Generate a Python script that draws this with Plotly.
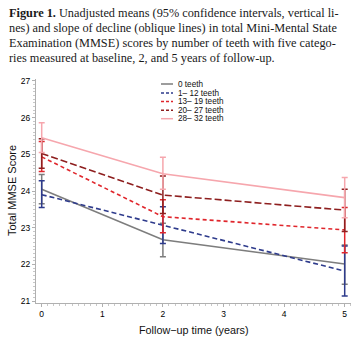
import plotly.graph_objects as go

time = [0, 2, 5]
groups = ["0 teeth", "1– 12 teeth", "13– 19 teeth", "20– 27 teeth", "28– 32 teeth"]
mean_0 = [24.05, 22.67, 22.01]
mean_1_12 = [23.90, 23.07, 21.82]
mean_13_19 = [24.93, 23.30, 22.94]
mean_20_27 = [25.02, 23.89, 23.48]
mean_28_32 = [25.45, 24.47, 23.82]
lo_0 = [23.65, 22.21, 21.46]
lo_1_12 = [23.55, 22.57, 21.14]
lo_13_19 = [24.53, 22.86, 22.32]
lo_20_27 = [24.62, 23.39, 22.90]
lo_28_32 = [25.05, 24.05, 23.27]
hi_0 = [24.45, 23.12, 22.53]
hi_1_12 = [24.28, 23.57, 22.50]
hi_13_19 = [25.35, 23.76, 23.55]
hi_20_27 = [25.42, 24.41, 24.05]
hi_28_32 = [25.86, 24.92, 24.37]
y_ticks = [21, 22, 23, 24, 25, 26, 27]
x_ticks = [0, 1, 2, 3, 4, 5]

means = [mean_0, mean_1_12, mean_13_19, mean_20_27, mean_28_32]
los = [lo_0, lo_1_12, lo_13_19, lo_20_27, lo_28_32]
his = [hi_0, hi_1_12, hi_13_19, hi_20_27, hi_28_32]
colors = ["#7d7d7d", "#2e3b8c", "#e0262c", "#8e1f1f", "#f6a6ad"]
dashes = ["solid", "5px,3px", "4px,3px", "7px,3px", "solid"]

W, H = 352, 346
L, R, T, B = 36, 1, 79, 43


def px_x(p):
    return (p - L) / (W - L - R)


def px_y(p):
    return (H - B - p) / (H - T - B)


fig = go.Figure()
for g, m, lo, hi, c, d in zip(groups, means, los, his, colors, dashes):
    fig.add_trace(go.Scatter(
        x=time, y=m, mode="lines", name=g,
        line=dict(color=c, width=1.6, dash=d),
        error_y=dict(type="data", symmetric=False,
                     array=[h - v for h, v in zip(hi, m)],
                     arrayminus=[v - l for l, v in zip(lo, m)],
                     color=c, thickness=1.5, width=3),
        showlegend=False,
    ))

shapes = []
annotations = []
leg_rows = [84, 93, 101.5, 110.3, 118.7]
for g, c, d, yy in zip(groups, colors, dashes, leg_rows):
    shapes.append(dict(type="line", xref="paper", yref="paper",
                       x0=px_x(161), x1=px_x(173), y0=px_y(yy), y1=px_y(yy),
                       line=dict(color=c, width=1.5, dash="solid" if d == "solid" else "3px,2px")))
    annotations.append(dict(xref="paper", yref="paper", x=px_x(176), y=px_y(yy),
                            text=g, showarrow=False, xanchor="left", yanchor="middle",
                            font=dict(family="Liberation Sans", size=8.2, color="#111")))

caption = [
    "<b>Figure 1.</b> Unadjusted means (95% confidence intervals, vertical li-",
    "nes) and slope of decline (oblique lines) in total Mini-Mental State",
    "Examination (MMSE) scores by number of teeth with five catego-",
    "ries measured at baseline, 2, and 5 years of follow-up.",
]
for line, yy in zip(caption, [13, 28, 43, 57.5]):
    annotations.append(dict(xref="paper", yref="paper", x=px_x(7), y=px_y(yy),
                            text=line, showarrow=False, xanchor="left", yanchor="middle",
                            font=dict(family="Liberation Serif", size=12.3, color="#1a1a1a")))

annotations.append(dict(xref="paper", yref="paper", x=0.5, y=px_y(330),
                        text="Follow−up time (years)", showarrow=False,
                        xanchor="center", yanchor="middle",
                        font=dict(family="Liberation Sans", size=10.8, color="#111")))
annotations.append(dict(xref="paper", yref="paper", x=px_x(12), y=0.5,
                        text="Total MMSE Score", showarrow=False, textangle=-90,
                        xanchor="center", yanchor="middle",
                        font=dict(family="Liberation Sans", size=11, color="#111")))

fig.update_layout(
    width=W, height=H, margin=dict(l=L, r=R, t=T, b=B, autoexpand=False),
    paper_bgcolor="white", plot_bgcolor="white",
    shapes=shapes, annotations=annotations,
    xaxis=dict(range=[-0.094, 5.104], tickvals=x_ticks, showgrid=False, zeroline=False,
               showline=True, linecolor="#b0b0b0", linewidth=1, automargin=False,
               ticks="outside", ticklen=3, tickcolor="#b0b0b0",
               minor=dict(dtick=0.1, ticks="outside", ticklen=2, tickcolor="#c8c8c8"),
               tickfont=dict(family="Liberation Sans", size=8.5, color="#000")),
    yaxis=dict(range=[20.95, 27.05], tickvals=y_ticks, showgrid=False, zeroline=False,
               showline=True, linecolor="#b0b0b0", linewidth=1, automargin=False,
               ticks="outside", ticklen=3, tickcolor="#b0b0b0",
               minor=dict(dtick=0.1, ticks="outside", ticklen=2, tickcolor="#c8c8c8"),
               tickfont=dict(family="Liberation Sans", size=8.5, color="#000")),
)

fig.write_html("out.html", config={"displayModeBar": False},
               post_script="document.body.style.margin='0';document.body.style.overflow='hidden';")
